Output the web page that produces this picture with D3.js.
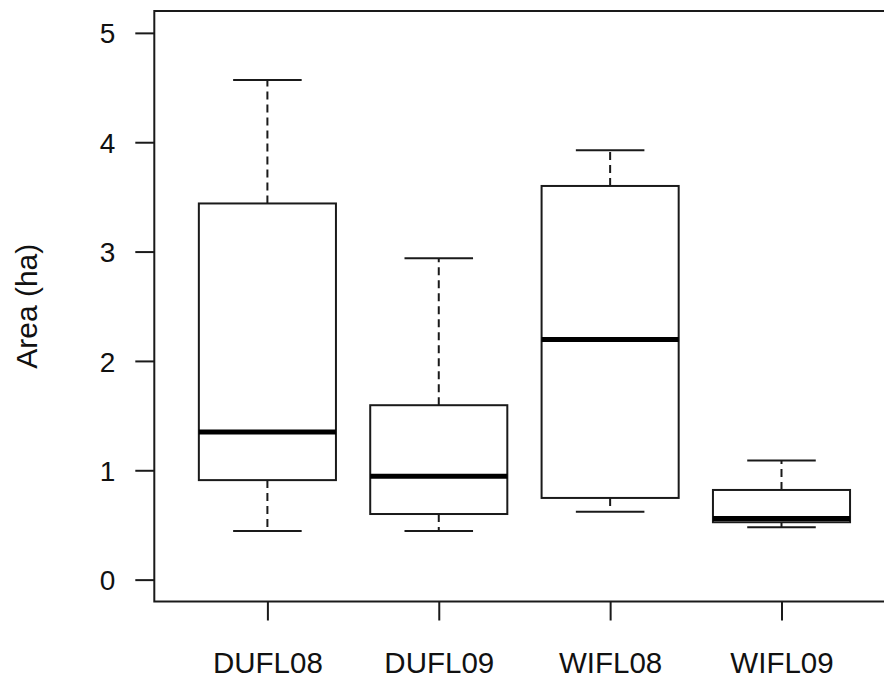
<!DOCTYPE html>
<html>
<head>
<meta charset="utf-8">
<script src="https://cdn.jsdelivr.net/npm/d3@7"></script>
<style>
  body { margin: 0; background: #fff; }
  text { font-family: "Liberation Sans", Arial, sans-serif; fill: #111; }
</style>
</head>
<body>
<svg id="chart" width="884" height="679"></svg>
<script>
const groups = ['DUFL08', 'DUFL09', 'WIFL08', 'WIFL09'];
const lowWhisker = [0.445, 0.445, 0.62, 0.478];
const lowerQuartile = [0.91, 0.60, 0.747, 0.525];
const medians = [1.35, 0.945, 2.195, 0.56];
const upperQuartile = [3.44, 1.595, 3.60, 0.82];
const highWhisker = [4.57, 2.94, 3.926, 1.09];
const yTicks = [0, 1, 2, 3, 4, 5];

const boxes = groups.map((g, i) => ({
  name: g,
  pos: i + 1,
  lo: lowWhisker[i],
  q1: lowerQuartile[i],
  med: medians[i],
  q3: upperQuartile[i],
  hi: highWhisker[i]
}));

const svg = d3.select('#chart');
const ink = '#1a1a1a';

// plot region (right edge falls outside the picture, like the original)
let x = d3.scaleLinear().domain([0.34, 4.66]).range([154.3, 894.6]);
let y = d3.scaleLinear().domain([-0.2, 5.2]).range([601.5, 11]);

const unit = x(1) - x(0);
const boxHalf = 0.4 * unit;
const capHalf = 0.2 * unit;

// frame
svg.append('rect')
  .attr('x', x(0.34))
  .attr('y', y(5.2))
  .attr('width', x(4.66) - x(0.34))
  .attr('height', y(-0.2) - y(5.2))
  .attr('fill', 'none')
  .attr('stroke', ink)
  .attr('stroke-width', 2);

// y axis
let yAxis = svg.append('g')
  .attr('transform', `translate(${x(0.34)},0)`)
  .call(d3.axisLeft(y).tickValues(yTicks).tickSize(19).tickPadding(20).tickFormat(d3.format('d')));
yAxis.select('.domain').remove();
yAxis.selectAll('line').attr('stroke', ink).attr('stroke-width', 2);
yAxis.selectAll('text').style('font-size', '28px').attr('fill', ink).attr('dy', '0.36em');

// x axis
let xAxis = svg.append('g')
  .attr('transform', `translate(0,${y(-0.2)})`)
  .call(d3.axisBottom(x).tickValues(boxes.map((d) => d.pos)).tickSize(19).tickPadding(32)
    .tickFormat((d) => groups[d - 1]));
xAxis.select('.domain').remove();
xAxis.selectAll('line').attr('stroke', ink).attr('stroke-width', 2);
xAxis.selectAll('text').style('font-size', '29.5px').attr('fill', ink);

// y label
svg.append('text')
  .attr('transform', `translate(37, ${y(2.5)}) rotate(-90)`)
  .attr('text-anchor', 'middle')
  .style('font-size', '30px')
  .text('Area (ha)');

// boxes
let boxGroup = svg.selectAll('g.box')
  .data(boxes)
  .enter()
  .append('g')
  .classed('box', true);

// whiskers (dashed)
boxGroup.append('line')
  .attr('x1', (d) => x(d.pos)).attr('x2', (d) => x(d.pos))
  .attr('y1', (d) => y(d.q3)).attr('y2', (d) => y(d.hi))
  .attr('stroke', ink).attr('stroke-width', 2).attr('stroke-dasharray', '8,5');
boxGroup.append('line')
  .attr('x1', (d) => x(d.pos)).attr('x2', (d) => x(d.pos))
  .attr('y1', (d) => y(d.q1)).attr('y2', (d) => y(d.lo))
  .attr('stroke', ink).attr('stroke-width', 2).attr('stroke-dasharray', '8,5');

// caps
['hi', 'lo'].forEach((k) => {
  boxGroup.append('line')
    .attr('x1', (d) => x(d.pos) - capHalf).attr('x2', (d) => x(d.pos) + capHalf)
    .attr('y1', (d) => y(d[k])).attr('y2', (d) => y(d[k]))
    .attr('stroke', ink).attr('stroke-width', 2);
});

// box body
boxGroup.append('rect')
  .attr('x', (d) => x(d.pos) - boxHalf)
  .attr('y', (d) => y(d.q3))
  .attr('width', 2 * boxHalf)
  .attr('height', (d) => y(d.q1) - y(d.q3))
  .attr('fill', '#fff')
  .attr('stroke', ink)
  .attr('stroke-width', 2);

// median
boxGroup.append('line')
  .attr('x1', (d) => x(d.pos) - boxHalf).attr('x2', (d) => x(d.pos) + boxHalf)
  .attr('y1', (d) => y(d.med)).attr('y2', (d) => y(d.med))
  .attr('stroke', '#000').attr('stroke-width', 5);
</script>
</body>
</html>
